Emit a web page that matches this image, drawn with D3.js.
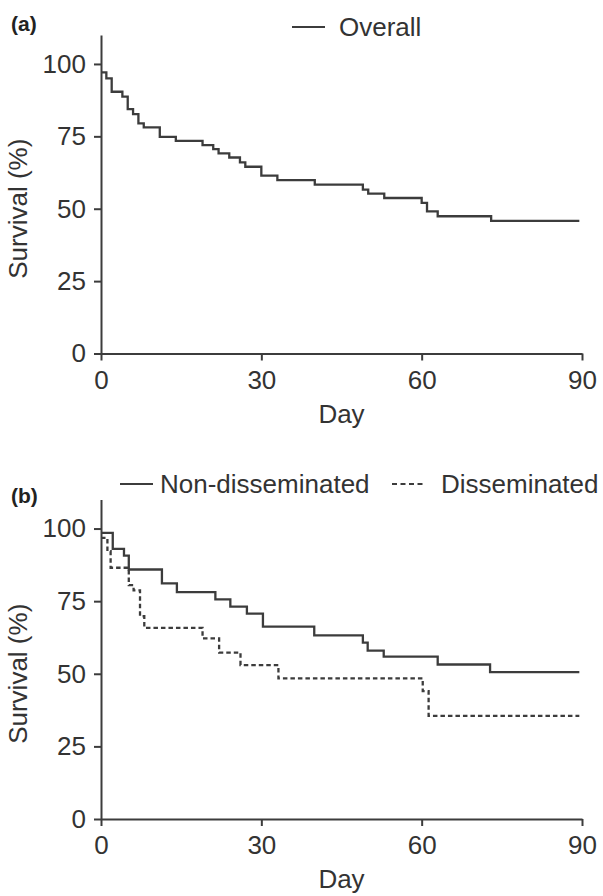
<!DOCTYPE html>
<html>
<head>
<meta charset="utf-8">
<script src="https://cdn.jsdelivr.net/npm/d3@7"></script>
<style>
  body { margin: 0; background: #fff; }
  svg { display: block; font-family: "Liberation Sans", Arial, sans-serif; }
</style>
</head>
<body>
<div id="chart"></div>
<script>
// Panel (a): overall survival, step times (day) and survival (%)
const overallDays = [0, 1, 2, 4, 5, 6, 7, 8, 11, 14, 19, 21, 22, 24, 26, 27, 30, 33, 40, 49, 50, 53, 60, 61, 63, 73];
const overallSurv = [97.1, 95, 90.4, 88.7, 84.4, 82.7, 79.5, 78.1, 74.8, 73.4, 72, 70.6, 69.1, 67.7, 66, 64.5, 61.4, 59.9, 58.3, 56.6, 55.2, 53.7, 52, 49.1, 47.4, 45.8];

// Panel (b): non-disseminated vs disseminated
const nonDissDays = [0, 2.2, 4.3, 5.2, 11.4, 14.2, 21.4, 24.2, 27.3, 30.3, 39.9, 49, 49.9, 52.9, 63, 72.8];
const nonDissSurv = [98.5, 93, 90.7, 85.9, 81.1, 78.1, 75.6, 73.1, 70.7, 66.2, 63.2, 60.7, 58, 55.9, 53.2, 50.6];
const dissDays = [0, 1.2, 1.8, 5.2, 6.1, 7.3, 8.1, 19, 22.1, 26.1, 33.2, 60.2, 61.3];
const dissSurv = [96.8, 92.2, 86.5, 80.5, 78.7, 69.8, 65.8, 62.2, 57.3, 53, 48.4, 44, 35.5];

const lastDay = 89.5;
const xTicks = [0, 30, 60, 90];
const yTicks = [0, 25, 50, 75, 100];

const width = 603, height = 896;
const ink = '#3c3c3c';
const fontSize = '26px';

const svg = d3.select('#chart').append('svg')
    .attr('width', width)
    .attr('height', height);

svg.append('rect').attr('width', width).attr('height', height).attr('fill', '#fff');

const x = d3.scaleLinear().domain([0, 90]).range([101, 582]);

// turn day/survival arrays into step points, carried on to the last follow-up day
function toSteps(days, surv) {
    const pts = days.map((d, i) => ({ day: d, surv: surv[i] }));
    pts.push({ day: lastDay, surv: surv[surv.length - 1] });
    return pts;
}

function drawPanel(opts) {
    const y = d3.scaleLinear().domain([0, 110]).range([opts.bottom, opts.top]);
    const g = svg.append('g');

    // x axis
    const xAxis = g.append('g')
        .attr('transform', `translate(0,${y(0)})`)
        .call(d3.axisBottom(x).tickValues(xTicks).tickSize(7).tickPadding(10).tickSizeOuter(0));

    // y axis
    const yAxis = g.append('g')
        .attr('transform', `translate(${x(0)},0)`)
        .call(d3.axisLeft(y).tickValues(yTicks).tickSize(7).tickPadding(8).tickSizeOuter(0));

    [xAxis, yAxis].forEach(a => {
        a.selectAll('path, line').attr('stroke', ink).attr('stroke-width', 2);
        a.selectAll('text').attr('fill', '#333').style('font-size', fontSize);
    });

    // axis titles
    g.append('text')
        .attr('x', (x(0) + x(90)) / 2)
        .attr('y', y(0) + 69)
        .attr('text-anchor', 'middle')
        .attr('fill', '#333')
        .style('font-size', fontSize)
        .text('Day');

    g.append('text')
        .attr('transform', `translate(27,${y(50)}) rotate(-90)`)
        .attr('text-anchor', 'middle')
        .attr('fill', '#333')
        .style('font-size', fontSize)
        .text('Survival (%)');

    // panel letter
    g.append('text')
        .attr('x', 11)
        .attr('y', opts.letterY)
        .attr('fill', '#222')
        .style('font-size', '21px')
        .style('font-weight', 'bold')
        .text(opts.letter);

    const line = d3.line()
        .x(d => x(d.day))
        .y(d => y(d.surv))
        .curve(d3.curveStepAfter);

    opts.series.forEach(s => {
        g.append('path')
            .datum(toSteps(s.days, s.surv))
            .attr('d', line)
            .attr('fill', 'none')
            .attr('stroke', ink)
            .attr('stroke-width', 2.3)
            .attr('stroke-dasharray', s.dash || null);

        // legend entry
        g.append('line')
            .attr('x1', s.lx).attr('x2', s.lx + 33)
            .attr('y1', opts.legendY).attr('y2', opts.legendY)
            .attr('stroke', ink)
            .attr('stroke-width', 2)
            .attr('stroke-dasharray', s.dash ? '5,3.5' : null);

        g.append('text')
            .attr('x', s.tx)
            .attr('y', opts.legendY + 9)
            .attr('fill', '#333')
            .style('font-size', fontSize)
            .text(s.name);
    });
}

drawPanel({
    top: 35, bottom: 353.5, letter: '(a)', letterY: 31, legendY: 27,
    series: [{ name: 'Overall', days: overallDays, surv: overallSurv, lx: 292, tx: 339 }]
});

drawPanel({
    top: 499.5, bottom: 819, letter: '(b)', letterY: 503, legendY: 484,
    series: [
        { name: 'Non-disseminated', days: nonDissDays, surv: nonDissSurv, lx: 120, tx: 160 },
        { name: 'Disseminated', days: dissDays, surv: dissSurv, lx: 392, tx: 441, dash: '4.5,3' }
    ]
});
</script>
</body>
</html>
